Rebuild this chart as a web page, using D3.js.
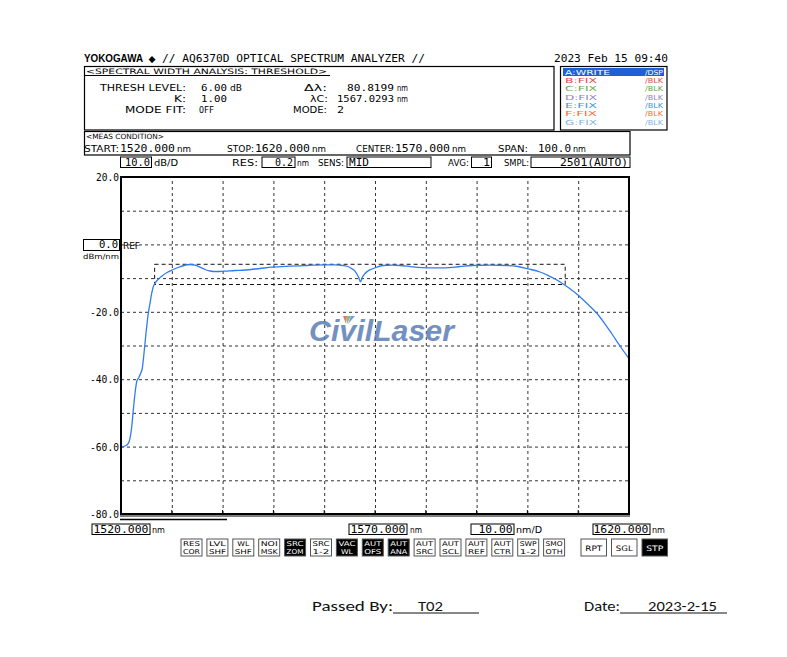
<!DOCTYPE html>
<html><head><meta charset="utf-8">
<script src="https://cdn.jsdelivr.net/npm/d3@7"></script>
<style>
body{margin:0;background:#fff;}
</style></head><body>
<svg id="c" width="787" height="657" xmlns="http://www.w3.org/2000/svg"></svg>
<script>
// ---------- data ----------
const wavelength = [1520.00,1520.79,1521.44,1521.77,1522.11,1522.42,1522.76,1523.09,1523.41,1523.88,1524.19,1524.53,1524.92,1525.37,1525.71,1526.04,1526.36,1526.69,1527.28,1528.07,1529.06,1530.04,1531.22,1532.40,1533.58,1534.57,1535.55,1536.54,1537.52,1538.90,1540.28,1542.44,1544.41,1547.36,1549.72,1553.27,1556.61,1559.96,1562.13,1563.70,1564.88,1565.67,1566.26,1566.75,1567.15,1567.54,1568.03,1568.62,1569.41,1570.39,1571.57,1573.35,1574.92,1577.28,1580.43,1583.78,1586.73,1589.09,1592.64,1595.98,1598.15,1600.12,1602.48,1604.06,1605.63,1607.11,1608.58,1610.06,1611.73,1613.62,1615.08,1616.65,1618.23,1620.00];
const power = [-60.03,-59.82,-59.02,-57.54,-54.10,-49.14,-44.18,-40.74,-39.73,-38.25,-36.77,-32.31,-26.38,-20.45,-17.48,-14.51,-12.55,-11.54,-10.42,-9.38,-8.34,-7.60,-6.85,-6.26,-5.96,-6.17,-6.76,-7.45,-7.89,-8.04,-7.95,-7.74,-7.60,-7.15,-6.77,-6.47,-6.26,-6.05,-6.05,-6.26,-6.71,-7.45,-8.34,-9.67,-11.07,-9.67,-8.63,-7.89,-7.30,-6.71,-6.26,-6.17,-6.26,-6.65,-6.94,-6.94,-6.56,-6.26,-6.17,-6.26,-6.56,-7.24,-8.19,-9.23,-10.42,-11.84,-13.38,-15.16,-17.54,-20.36,-23.18,-26.59,-30.15,-33.90];
const gridWavelengths = [1530,1540,1550,1560,1570,1580,1590,1600,1610];
const gridLevels = [10,0,-10,-20,-30,-40,-50,-60,-70];
const yTickLabels = [20,-20,-40,-60,-80];
const thresholdCenter = 1567.0293;
const thresholdWidth = 80.8199;
const thresholdPeak = -5.9;
const thresholdLevel = 6.0;
const traceNames = ["A:WRITE","B:FIX","C:FIX","D:FIX","E:FIX","F:FIX","G:FIX"];
const traceStates = ["/DSP","/BLK","/BLK","/BLK","/BLK","/BLK","/BLK"];
const traceColors = ["#ffffff","#e0484c","#6aa83c","#8a86c0","#3a9ad6","#ff6a3c","#86b2e2"];
const buttonTop = ["RES","LVL","WL","NOI","SRC","SRC","VAC","AUT","AUT","AUT","AUT","AUT","AUT","SWP","SMO"];
const buttonBottom = ["COR","SHF","SHF","MSK","ZOM","1-2","WL","OFS","ANA","SRC","SCL","REF","CTR","1-2","OTH"];
const buttonActive = [0,0,0,0,1,0,1,1,1,0,0,0,0,0,0];
const bigButtons = ["RPT","SGL","STP"];
const bigActive = [0,0,1];

// ---------- helpers ----------
const MONO = "'DejaVu Sans Mono', monospace";
const LAB = "'DejaVu Sans', sans-serif";
const svg = d3.select("#c");
function txt(x, y, s, o = {}) {
  const t = svg.append("text").attr("x", x).attr("y", y).text(s)
    .attr("font-family", o.fam || MONO).attr("font-size", o.size || 11)
    .attr("fill", o.fill || "#000").attr("text-anchor", o.anchor || "start");
  if (o.len) t.attr("textLength", o.len).attr("lengthAdjust", "spacingAndGlyphs");
  if (o.weight) t.attr("font-weight", o.weight);
  if (o.style) t.attr("font-style", o.style);
  if (o.opacity) t.attr("opacity", o.opacity);
  return t;
}
function lab(x, y, s, len, o = {}) { return txt(x, y, s, Object.assign({fam: LAB, size: 8, len: len}, o)); }
function val(x, y, s, len, o = {}) { return txt(x, y, s, Object.assign({fam: MONO, size: 11, len: len}, o)); }
function box(x, y, w, h, o = {}) {
  return svg.append("rect").attr("x", x).attr("y", y).attr("width", w).attr("height", h)
    .attr("fill", o.fill || "none").attr("stroke", o.stroke || "#000").attr("stroke-width", o.sw || 1);
}
function line(x1, y1, x2, y2, o = {}) {
  return svg.append("line").attr("x1", x1).attr("y1", y1).attr("x2", x2).attr("y2", y2)
    .attr("stroke", o.stroke || "#000").attr("stroke-width", o.sw || 1)
    .attr("stroke-dasharray", o.dash || null);
}

// ---------- header ----------
txt(84, 62, "YOKOGAWA", {fam: "'Liberation Sans', sans-serif", weight: "bold", size: 10.5, len: 59});
txt(148.5, 62, "\u25C6", {fam: "'DejaVu Sans', sans-serif", size: 9.5, len: 7});
val(162, 62, "// AQ6370D OPTICAL SPECTRUM ANALYZER //", 263, {size: 11});
val(554, 62, "2023 Feb 15 09:40", 114, {size: 11});

// analysis box
box(84.5, 66.5, 469.5, 63.5, {sw: 1.2});
lab(86, 73.8, "<SPECTRAL WIDTH ANALYSIS: THRESHOLD>", 241, {size: 7.5});
line(84, 75.5, 330, 75.5, {sw: 1});
const r1 = 90.5, r2 = 101.7, r3 = 112.9;
lab(100, r1, "THRESH LEVEL:", 86, {size: 8.5});
val(201, r1, thresholdLevel.toFixed(2), 26, {size: 9.5});
lab(230, r1, "dB", 12, {size: 8.5});
lab(174, r2, "K:", 12, {size: 8.5});
val(201, r2, "1.00", 26, {size: 9.5});
lab(125, r3, "MODE FIT:", 61, {size: 8.5});
val(199, r3, "OFF", 15, {size: 9.5});
lab(304, r1, "\u0394\u03BB:", 23, {size: 8.5});
val(347, r1, thresholdWidth.toFixed(4), 47, {size: 9.5});
lab(397, r1, "nm", 11, {size: 8.5});
lab(310, r2, "\u03BBC:", 18, {size: 8.5});
val(337, r2, thresholdCenter.toFixed(4), 57, {size: 9.5});
lab(397, r2, "nm", 11, {size: 8.5});
lab(293, r3, "MODE:", 34, {size: 8.5});
val(337, r3, "2", 7, {size: 9.5});

// meas condition box
box(84.5, 131.5, 545.5, 23.5, {sw: 1.2});
lab(86, 138.6, "<MEAS CONDITION>", 78, {size: 7.2});
lab(84, 151.5, "START:", 35, {size: 8.5});
val(120, 151.5, "1520.000", 55, {size: 10.5});
lab(177, 151.5, "nm", 14, {size: 8.5});
lab(227, 151.5, "STOP:", 27, {size: 8.5});
val(255, 151.5, "1620.000", 55, {size: 10.5});
lab(312, 151.5, "nm", 14, {size: 8.5});
lab(356, 151.5, "CENTER:", 38, {size: 8.5});
val(395, 151.5, "1570.000", 55, {size: 10.5});
lab(452, 151.5, "nm", 14, {size: 8.5});
lab(498, 151.5, "SPAN:", 30, {size: 8.5});
val(538, 151.5, "100.0", 33, {size: 10.5});
lab(573, 151.5, "nm", 13, {size: 8.5});

// trace legend box
box(560.5, 66.5, 106.5, 63.5, {sw: 1.2});
svg.append("rect").attr("x", 563).attr("y", 68).attr("width", 101).attr("height", 8).attr("fill", "#1f5fd8");
traceNames.forEach((n, i) => {
  const y = 74.6 + i * 8.33;
  lab(565, y, n, n.length > 5 ? 45 : 32, {size: 7, fill: traceColors[i]});
  lab(663, y, traceStates[i], 18, {size: 7, fill: traceColors[i], anchor: "end"});
});

// ---------- chart ----------
const x = d3.scaleLinear().domain([1520, 1620]).range([121, 629]);
const y = d3.scaleLinear().domain([-80, 20]).range([514, 177]);

// top setting row
box(120.5, 157, 31, 10.5);
val(150, 166, "10.0", 25, {anchor: "end"});
lab(154, 166, "dB/D", 24);
lab(232, 166, "RES:", 26);
box(262, 157, 33, 10.5);
val(293, 166, "0.2", 18, {anchor: "end"});
lab(297, 166, "nm", 12);
lab(318, 166, "SENS:", 26);
box(347, 157, 84, 10.5);
val(349, 166, "MID", 20);
lab(448, 166, "AVG:", 21);
box(471.5, 157, 20, 10.5);
val(490, 166, "1", 7, {anchor: "end"});
lab(504, 166, "SMPL:", 25);
box(531, 157, 99, 10.5);
val(628, 166, "2501(AUTO)", 68, {anchor: "end"});

// grid
const gridStyle = (g) => g.selectAll("line").attr("stroke", "#333").attr("stroke-width", 1).attr("stroke-dasharray", "3,3");
svg.append("g").attr("transform", "translate(0,514)")
  .call(d3.axisBottom(x).tickValues(gridWavelengths).tickSize(-(514 - 177)).tickFormat(""))
  .call(g => g.select(".domain").remove()).call(gridStyle);
svg.append("g").attr("transform", "translate(121,0)")
  .call(d3.axisLeft(y).tickValues(gridLevels).tickSize(-(629 - 121)).tickFormat(""))
  .call(g => g.select(".domain").remove()).call(gridStyle);

// y labels
svg.append("g").attr("transform", "translate(119,0)")
  .call(d3.axisLeft(y).tickValues(yTickLabels).tickSize(0).tickPadding(0).tickFormat(d => d.toFixed(1)))
  .call(g => g.select(".domain").remove())
  .call(g => g.selectAll("text").attr("font-family", MONO).attr("font-size", 10.5).attr("fill", "#000")
    .attr("dy", "0.35em").attr("textLength", function(d){ return d < 0 ? 29 : 23; }).attr("lengthAdjust", "spacingAndGlyphs"));

// REF
box(83.5, 239.5, 36, 11);
val(118, 248.3, "0.0", 19, {anchor: "end", size: 10});
lab(123, 248.5, "REF", 17);
lab(83, 258.6, "dBm/nm", 36, {size: 7.2});

// watermark
txt(309, 341, "CivilLaser", {fam: "'Liberation Sans', sans-serif", weight: "bold", style: "italic", size: 29, len: 145, fill: "#5a7db6", opacity: 0.85});
svg.append("polygon").attr("points", "343,316 347,316 346,324").attr("fill", "#e0504a").attr("opacity", 0.8);
svg.append("polygon").attr("points", "347,316 351,316 347,324").attr("fill", "#5cb848").attr("opacity", 0.8);
svg.append("polygon").attr("points", "351,316 355,316 348,324").attr("fill", "#5a7de0").attr("opacity", 0.8);

// threshold box
const tl = x(thresholdCenter - thresholdWidth / 2), tr = x(thresholdCenter + thresholdWidth / 2);
const tt = y(thresholdPeak), tb = y(thresholdPeak - thresholdLevel);
svg.append("rect").attr("x", tl).attr("y", tt).attr("width", tr - tl).attr("height", tb - tt)
  .attr("fill", "none").attr("stroke", "#111").attr("stroke-width", 1).attr("stroke-dasharray", "4,3");

// curve
const pts = wavelength.map((w, i) => [w, power[i]]);
svg.append("path").datum(pts)
  .attr("d", d3.line().x(d => x(d[0])).y(d => y(d[1])).curve(d3.curveMonotoneX))
  .attr("fill", "none").attr("stroke", "#2f7cf0").attr("stroke-width", 1.3);

// plot border
box(121, 177, 508, 337, {sw: 2});
line(120, 516, 630, 516, {sw: 1});
gridWavelengths.forEach(w => line(x(w), 510, x(w), 514, {sw: 1}));
line(120, 519.5, 227, 519.5, {sw: 1.5});

// bottom row
box(92, 524, 58, 10.5);
val(148.5, 533, "1520.000", 55, {anchor: "end"});
lab(152, 533, "nm", 13);
box(349, 524, 58, 10.5);
val(405.5, 533, "1570.000", 55, {anchor: "end"});
lab(410, 533, "nm", 12);
box(471, 524, 43, 10.5);
val(512.5, 533, "10.00", 34, {anchor: "end"});
lab(516, 533, "nm/D", 26);
box(593, 524, 57, 10.5);
val(648.5, 533, "1620.000", 55, {anchor: "end"});
lab(652, 533, "nm", 13);

// buttons
buttonTop.forEach((t, i) => {
  const bx = 181 + i * 25.9, by = 539;
  const act = buttonActive[i];
  box(bx, by, 21, 17, {fill: act ? "#000" : "#fff", stroke: "#555"});
  const c = act ? "#fff" : "#000";
  lab(bx + 10.5, by + 7.3, t, t.length > 2 ? 17 : 12, {size: 6.7, fill: c, anchor: "middle"});
  lab(bx + 10.5, by + 15.3, buttonBottom[i], buttonBottom[i].length > 2 ? 17 : 12, {size: 6.7, fill: c, anchor: "middle"});
});
bigButtons.forEach((t, i) => {
  const bx = 581 + i * 30.5, by = 539;
  const act = bigActive[i];
  box(bx, by, 25.5, 17, {fill: act ? "#000" : "#fff", stroke: "#555"});
  lab(bx + 12.75, by + 11.5, t, 17, {size: 7.5, fill: act ? "#fff" : "#000", anchor: "middle"});
});

// footer
const FF = "'Carlito','Liberation Sans', sans-serif";
txt(312, 611, "Passed  By:", {fam: FF, size: 13.5, len: 81, fill: "#111"});
txt(418, 611, "T02", {fam: FF, size: 13.5, len: 25, fill: "#111"});
line(393, 613, 479, 613, {sw: 1, stroke: "#111"});
txt(584, 611, "Date:", {fam: FF, size: 13.5, len: 36, fill: "#111"});
txt(648, 611, "2023-2-15", {fam: FF, size: 13.5, len: 69, fill: "#111"});
line(620, 613, 727, 613, {sw: 1, stroke: "#111"});
</script>
</body></html>
